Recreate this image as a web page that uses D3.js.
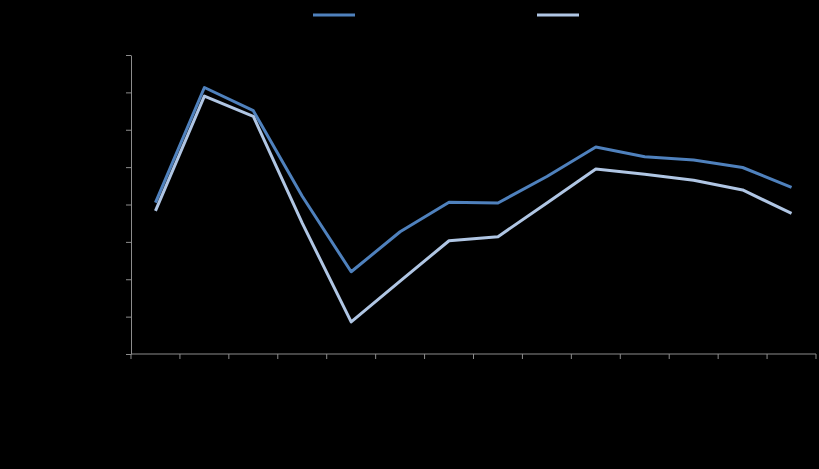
<!DOCTYPE html>
<html><head><meta charset="utf-8">
<script src="https://cdn.jsdelivr.net/npm/d3@7"></script>
<style>html,body{margin:0;padding:0;background:#000;}svg{display:block;}</style>
</head><body>
<script>
const categories = ["2000","2001","2002","2003","2004","2005","2006","2007","2008","2009","2010","2011","2012","2013"];
const seriesNames = ["Series 1","Series 2"];
const series1 = [4.05,7.13,6.51,4.22,2.20,3.27,4.06,4.04,4.75,5.54,5.28,5.19,4.99,4.46];
const series2 = [3.83,6.90,6.36,3.50,0.86,1.95,3.03,3.14,4.04,4.95,4.81,4.65,4.39,3.76];
const yTicks = [0,1,2,3,4,5,6,7,8];
const colors = ["#4F81BD","#B0C6E4"];

const W=819,H=469, L=131, R=816, T=55, B=354;
const svg=d3.select("body").append("svg").attr("width",W).attr("height",H).style("background","#000");
svg.append("rect").attr("width",W).attr("height",H).attr("fill","#000");

const x=d3.scaleBand().domain(categories).range([L,R]).padding(0);
const y=d3.scaleLinear().domain([0,8]).range([B,T]);

// y axis
const ya=svg.append("g").attr("transform",`translate(${L},0)`)
  .call(d3.axisLeft(y).tickValues(yTicks).tickSize(5).tickSizeOuter(0).tickFormat(d3.format(".1f")));
ya.select(".domain").attr("stroke","#8c8c8c");
ya.selectAll(".tick line").attr("stroke","#8c8c8c");
ya.selectAll("text").attr("fill","#000").style("font-family","Liberation Sans, Arial").style("font-size","11px");

// x axis
const xg=svg.append("g");
xg.append("line").attr("x1",L).attr("x2",R).attr("y1",B).attr("y2",B).attr("stroke","#8c8c8c");
const edges=categories.map(c=>x(c)).concat([x(categories[categories.length-1])+x.bandwidth()]);
xg.selectAll("line.t").data(edges).enter().append("line").attr("class","t")
  .attr("x1",d=>d).attr("x2",d=>d).attr("y1",B).attr("y2",B+5).attr("stroke","#8c8c8c");
xg.selectAll("text").data(categories).enter().append("text")
  .attr("x",d=>x(d)+x.bandwidth()/2).attr("y",B+20).attr("text-anchor","middle")
  .attr("fill","#000").style("font-family","Liberation Sans, Arial").style("font-size","11px").text(d=>d);

const line=d3.line().x((d,i)=>x(categories[i])+x.bandwidth()/2).y(d=>y(d));
[series1,series2].forEach((s,k)=>{
  svg.append("path").datum(s).attr("d",line).attr("fill","none")
    .attr("stroke",colors[k]).attr("stroke-width",3).attr("stroke-linejoin","round");
});

// legend
const lx=[313,537];
seriesNames.forEach((n,k)=>{
  svg.append("line").attr("x1",lx[k]).attr("x2",lx[k]+42).attr("y1",15).attr("y2",15)
    .attr("stroke",colors[k]).attr("stroke-width",3);
  svg.append("text").attr("x",lx[k]+48).attr("y",19).attr("fill","#000")
    .style("font-family","Liberation Sans, Arial").style("font-size","11px").text(n);
});
</script>
</body></html>
